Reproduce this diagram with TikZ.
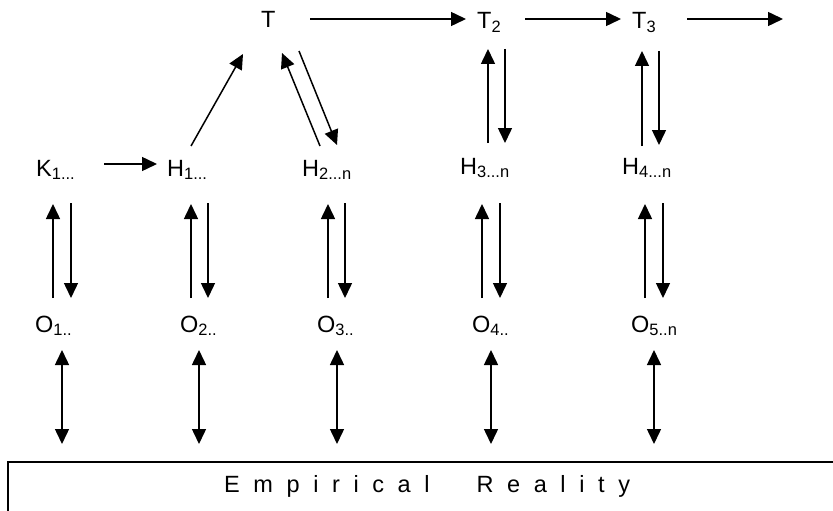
\documentclass[tikz,border=0pt]{standalone}
\usepackage{fontspec}
\setmainfont{Liberation Sans}
\usetikzlibrary{arrows.meta}
\newcommand\lsp{\hspace{13.6pt}}
\begin{document}
\begin{tikzpicture}[x=1pt,y=-1pt,
  lbl/.style={anchor=base west,inner sep=0pt,font=\fontsize{23.5}{27}\selectfont},
  arr/.style={line width=1.5pt,-{Triangle[length=15pt,width=14pt]}},
  dbl/.style={line width=1.5pt,{Triangle[length=15pt,width=14pt]}-{Triangle[length=15pt,width=14pt]}},
  boxline/.style={line width=2pt}]
\useasboundingbox (0,0) rectangle (833,511);
% labels
\node[lbl] (T)  at (261,28) {T};
\node[lbl] (T2) at (477,29) {T\textsubscript{2}};
\node[lbl] (T3) at (632,29) {T\textsubscript{3}};
\node[lbl] (K1) at (36,176) {K\textsubscript{1...}};
\node[lbl] (H1) at (167,176) {H\textsubscript{1...}};
\node[lbl] (H2) at (302,176) {H\textsubscript{2...n}};
\node[lbl] (H3) at (460,174) {H\textsubscript{3...n}};
\node[lbl] (H4) at (622,174) {H\textsubscript{4...n}};
\node[lbl] (O1) at (35,332) {O\textsubscript{1..}};
\node[lbl] (O2) at (180,332) {O\textsubscript{2..}};
\node[lbl] (O3) at (317,332) {O\textsubscript{3..}};
\node[lbl] (O4) at (472,332) {O\textsubscript{4..}};
\node[lbl] (O5) at (631,332) {O\textsubscript{5..n}};
\node[lbl] (ER) at (224,492) {E\lsp m\lsp p\lsp i\lsp r\lsp i\lsp c\lsp a\lsp l\hspace{47pt}R\lsp e\lsp a\lsp l\lsp i\lsp t\lsp y};
% coordinates
\coordinate (tt2s) at (310,19); \coordinate (tt2e) at (466,19);
\coordinate (t23s) at (525,19); \coordinate (t23e) at (621,19);
\coordinate (t3xs) at (687,19); \coordinate (t3xe) at (783,19);
\coordinate (khs) at (104,164); \coordinate (khe) at (157,164);
\coordinate (h1ts) at (191,146); \coordinate (h1te) at (243,54);
\coordinate (h2ts) at (320,146); \coordinate (h2te) at (282,53);
\coordinate (th2s) at (299,51);  \coordinate (th2e) at (337,145);
% top row
\draw[arr] (tt2s) -- (tt2e);
\draw[arr] (t23s) -- (t23e);
\draw[arr] (t3xs) -- (t3xe);
\draw[arr] (khs) -- (khe);
\draw[arr] (h1ts) -- (h1te);
\draw[arr] (h2ts) -- (h2te);
\draw[arr] (th2s) -- (th2e);
% T2/H3, T3/H4 pairs
\coordinate (h3us) at (488,143); \coordinate (h3ue) at (488,49);
\coordinate (h3ds) at (505,49);  \coordinate (h3de) at (505,143);
\coordinate (h4us) at (642,146); \coordinate (h4ue) at (642,51);
\coordinate (h4ds) at (659,51);  \coordinate (h4de) at (659,145);
\draw[arr] (h3us) -- (h3ue);
\draw[arr] (h3ds) -- (h3de);
\draw[arr] (h4us) -- (h4ue);
\draw[arr] (h4ds) -- (h4de);
% H/O pairs
\foreach \u/\d/\n in {53/71/1,191/208/2,328/345/3,482/500/4,645/663/5}{
  \coordinate (ou\n s) at (\u,298); \coordinate (ou\n e) at (\u,204);
  \coordinate (od\n s) at (\d,203); \coordinate (od\n e) at (\d,298);
  \draw[arr] (ou\n s) -- (ou\n e);
  \draw[arr] (od\n s) -- (od\n e);
}
% O/reality double arrows
\foreach \x/\n in {62/1,199/2,337/3,491/4,654/5}{
  \coordinate (rt\n) at (\x,350); \coordinate (rb\n) at (\x,444);
  \draw[dbl] (rt\n) -- (rb\n);
}
% box
\coordinate (bl) at (8,511); \coordinate (tl) at (8,462); \coordinate (tr) at (833,462);
\draw[boxline] (bl) -- (tl) -- (tr);
\end{tikzpicture}
\end{document}
